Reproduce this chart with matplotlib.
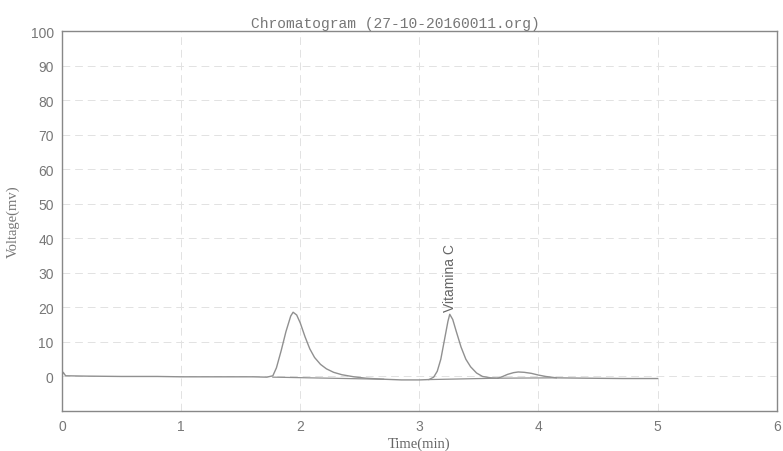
import matplotlib
matplotlib.use("Agg")
import matplotlib.pyplot as plt

# Detector trace (time in min, signal in mV)
time_min = [0.00, 0.01, 0.03, 0.2, 0.5, 0.8, 1.0, 1.3, 1.6, 1.72, 1.77, 1.80, 1.84,
            1.88, 1.92, 1.94, 1.97, 2.00, 2.04, 2.08, 2.12, 2.17, 2.22, 2.28,
            2.35, 2.45, 2.55, 2.70, 2.85, 3.00, 3.08, 3.12, 3.15, 3.18, 3.21,
            3.24, 3.255, 3.28, 3.31, 3.35, 3.39, 3.43, 3.48, 3.53, 3.60, 3.66,
            3.70, 3.74, 3.79, 3.83, 3.88, 3.94, 4.00, 4.06, 4.15, 4.40, 4.70, 5.00]
voltage_mv = [0.3, 1.2, 0.2, 0.1, 0.0, 0.0, -0.1, -0.1, -0.1, -0.2, 0.2, 2.5, 7.5,
              13.0, 17.5, 18.6, 17.8, 15.5, 11.5, 8.0, 5.5, 3.5, 2.2, 1.2,
              0.5, -0.1, -0.5, -0.8, -1.0, -1.0, -0.9, -0.2, 1.5, 5.0, 10.5,
              16.0, 18.0, 16.5, 13.0, 8.5, 5.0, 2.8, 1.0, 0.0, -0.4, -0.5,
              0.0, 0.6, 1.1, 1.3, 1.2, 0.9, 0.4, 0.0, -0.4, -0.5, -0.6, -0.6]

# Integration baselines drawn under each peak: (t_start, v_start, t_end, v_end)
baselines = [(1.77, -0.2, 2.70, -0.8), (3.08, -0.9, 3.66, -0.5), (3.66, -0.5, 4.15, -0.4)]

peak_name = "Vitamina C"
peak_time = 3.255
peak_height = 18.0

x_ticks = [0, 1, 2, 3, 4, 5, 6]
y_ticks = [0, 10, 20, 30, 40, 50, 60, 70, 80, 90, 100]

fig = plt.figure(figsize=(7.83, 4.52), dpi=100)
ax = fig.add_axes([0.0792, 0.0885, 0.9128, 0.8405])

line_col = "#909090"
ax.plot(time_min, voltage_mv, color=line_col, lw=1.0)
for t0, v0, t1, v1 in baselines:
    ax.plot([t0, t1], [v0, v1], color=line_col, lw=0.9)

ax.text(peak_time, peak_height + 1.0, peak_name, rotation=90, ha="center", va="bottom",
        fontsize=10, color="#666666", family="Liberation Sans")

ax.set_xlim(0, 6)
ax.set_ylim(-10, 100)
ax.set_xticks(x_ticks)
ax.set_yticks(y_ticks)
ax.tick_params(length=0, labelsize=10, colors="#777777", pad=6)
for lab in ax.get_xticklabels() + ax.get_yticklabels():
    lab.set_family("Liberation Sans")

ax.grid(True, color="#e2e2e2", lw=0.7, ls=(0, (8, 5)))
for s in ax.spines.values():
    s.set_color("#888888")
    s.set_linewidth(1.0)

ax.set_xlabel("Time(min)", fontsize=10.5, color="#666666", family="Liberation Serif", labelpad=2)
ax.set_ylabel("Voltage(mv)", fontsize=10.5, color="#777777", family="Liberation Serif", labelpad=8)
ax.set_title("Chromatogram (27-10-20160011.org)", fontsize=10.5, color="#777777",
             family="Liberation Mono", x=0.466, pad=3)

fig.savefig("out.png", dpi=100)
